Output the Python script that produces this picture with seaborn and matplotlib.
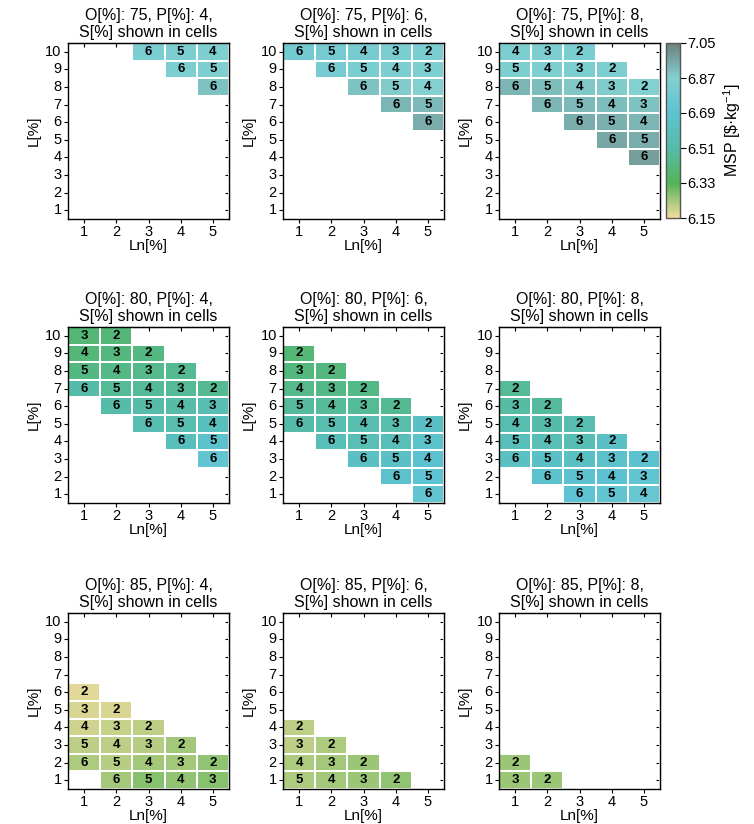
import numpy as np
import pandas as pd
import matplotlib
matplotlib.use('Agg')
import matplotlib.pyplot as plt
from matplotlib.colors import LinearSegmentedColormap, Normalize
from matplotlib.cm import ScalarMappable
import seaborn as sns

N = np.nan

# Axis categories
O_vals = [75, 80, 85]
P_vals = [4, 6, 8]
L_levels = [10, 9, 8, 7, 6, 5, 4, 3, 2, 1]
Ln_levels = [1, 2, 3, 4, 5]
cbar_ticks = [6.15, 6.33, 6.51, 6.69, 6.87, 7.05]

# MSP [$/kg] per cell, rows L=10..1, cols Ln=1..5
msp_75_4 = [
    [N, N, 6.83, 6.84, 6.85],
    [N, N, N, 6.84, 6.86],
    [N, N, N, N, 6.90],
    [N, N, N, N, N],
    [N, N, N, N, N],
    [N, N, N, N, N],
    [N, N, N, N, N],
    [N, N, N, N, N],
    [N, N, N, N, N],
    [N, N, N, N, N],
]
msp_75_6 = [
    [6.80, 6.81, 6.82, 6.83, 6.83],
    [N, 6.82, 6.83, 6.84, 6.85],
    [N, N, 6.90, 6.88, 6.87],
    [N, N, N, 6.93, 6.92],
    [N, N, N, N, 6.95],
    [N, N, N, N, N],
    [N, N, N, N, N],
    [N, N, N, N, N],
    [N, N, N, N, N],
    [N, N, N, N, N],
]
msp_75_8 = [
    [6.84, 6.84, 6.83, N, N],
    [6.85, 6.85, 6.84, 6.84, N],
    [6.93, 6.91, 6.89, 6.88, 6.87],
    [N, 6.93, 6.92, 6.91, 6.90],
    [N, N, 6.95, 6.94, 6.93],
    [N, N, N, 6.96, 6.95],
    [N, N, N, N, 6.98],
    [N, N, N, N, N],
    [N, N, N, N, N],
    [N, N, N, N, N],
]
msp_80_4 = [
    [6.40, 6.41, N, N, N],
    [6.41, 6.42, 6.43, N, N],
    [6.43, 6.44, 6.45, 6.46, N],
    [6.52, 6.47, 6.47, 6.47, 6.46],
    [N, 6.52, 6.51, 6.51, 6.56],
    [N, N, 6.56, 6.55, 6.60],
    [N, N, N, 6.60, 6.66],
    [N, N, N, N, 6.72],
    [N, N, N, N, N],
    [N, N, N, N, N],
]
msp_80_6 = [
    [N, N, N, N, N],
    [6.40, N, N, N, N],
    [6.42, 6.42, N, N, N],
    [6.45, 6.44, 6.44, N, N],
    [6.49, 6.48, 6.47, 6.46, N],
    [6.52, 6.55, 6.54, 6.53, 6.64],
    [N, 6.58, 6.57, 6.58, 6.66],
    [N, N, 6.63, 6.64, 6.68],
    [N, N, N, 6.67, 6.70],
    [N, N, N, N, 6.72],
]
msp_80_8 = [
    [N, N, N, N, N],
    [N, N, N, N, N],
    [N, N, N, N, N],
    [6.47, N, N, N, N],
    [6.50, 6.49, N, N, N],
    [6.54, 6.52, 6.55, N, N],
    [6.59, 6.57, 6.56, 6.64, N],
    [6.62, 6.64, 6.63, 6.66, 6.68],
    [N, 6.67, 6.68, 6.69, 6.71],
    [N, N, 6.70, 6.72, 6.74],
]
msp_85_4 = [
    [N, N, N, N, N],
    [N, N, N, N, N],
    [N, N, N, N, N],
    [N, N, N, N, N],
    [6.17, N, N, N, N],
    [6.18, 6.18, N, N, N],
    [6.19, 6.20, 6.21, N, N],
    [6.21, 6.21, 6.22, 6.24, N],
    [6.23, 6.22, 6.24, 6.24, 6.26],
    [N, 6.24, 6.27, 6.26, 6.27],
]
msp_85_6 = [
    [N, N, N, N, N],
    [N, N, N, N, N],
    [N, N, N, N, N],
    [N, N, N, N, N],
    [N, N, N, N, N],
    [N, N, N, N, N],
    [6.21, N, N, N, N],
    [6.21, 6.23, N, N, N],
    [6.23, 6.24, 6.25, N, N],
    [6.23, 6.24, 6.25, 6.26, N],
]
msp_85_8 = [
    [N, N, N, N, N],
    [N, N, N, N, N],
    [N, N, N, N, N],
    [N, N, N, N, N],
    [N, N, N, N, N],
    [N, N, N, N, N],
    [N, N, N, N, N],
    [N, N, N, N, N],
    [6.25, N, N, N, N],
    [6.25, 6.25, N, N, N],
]

# S[%] written in the cells (0 = empty cell)
s_75_4 = [
    [0, 0, 6, 5, 4], [0, 0, 0, 6, 5], [0, 0, 0, 0, 6], [0, 0, 0, 0, 0], [0, 0, 0, 0, 0],
    [0, 0, 0, 0, 0], [0, 0, 0, 0, 0], [0, 0, 0, 0, 0], [0, 0, 0, 0, 0], [0, 0, 0, 0, 0],
]
s_75_6 = [
    [6, 5, 4, 3, 2], [0, 6, 5, 4, 3], [0, 0, 6, 5, 4], [0, 0, 0, 6, 5], [0, 0, 0, 0, 6],
    [0, 0, 0, 0, 0], [0, 0, 0, 0, 0], [0, 0, 0, 0, 0], [0, 0, 0, 0, 0], [0, 0, 0, 0, 0],
]
s_75_8 = [
    [4, 3, 2, 0, 0], [5, 4, 3, 2, 0], [6, 5, 4, 3, 2], [0, 6, 5, 4, 3], [0, 0, 6, 5, 4],
    [0, 0, 0, 6, 5], [0, 0, 0, 0, 6], [0, 0, 0, 0, 0], [0, 0, 0, 0, 0], [0, 0, 0, 0, 0],
]
s_80_4 = [
    [3, 2, 0, 0, 0], [4, 3, 2, 0, 0], [5, 4, 3, 2, 0], [6, 5, 4, 3, 2], [0, 6, 5, 4, 3],
    [0, 0, 6, 5, 4], [0, 0, 0, 6, 5], [0, 0, 0, 0, 6], [0, 0, 0, 0, 0], [0, 0, 0, 0, 0],
]
s_80_6 = [
    [0, 0, 0, 0, 0], [2, 0, 0, 0, 0], [3, 2, 0, 0, 0], [4, 3, 2, 0, 0], [5, 4, 3, 2, 0],
    [6, 5, 4, 3, 2], [0, 6, 5, 4, 3], [0, 0, 6, 5, 4], [0, 0, 0, 6, 5], [0, 0, 0, 0, 6],
]
s_80_8 = [
    [0, 0, 0, 0, 0], [0, 0, 0, 0, 0], [0, 0, 0, 0, 0], [2, 0, 0, 0, 0], [3, 2, 0, 0, 0],
    [4, 3, 2, 0, 0], [5, 4, 3, 2, 0], [6, 5, 4, 3, 2], [0, 6, 5, 4, 3], [0, 0, 6, 5, 4],
]
s_85_4 = [
    [0, 0, 0, 0, 0], [0, 0, 0, 0, 0], [0, 0, 0, 0, 0], [0, 0, 0, 0, 0], [2, 0, 0, 0, 0],
    [3, 2, 0, 0, 0], [4, 3, 2, 0, 0], [5, 4, 3, 2, 0], [6, 5, 4, 3, 2], [0, 6, 5, 4, 3],
]
s_85_6 = [
    [0, 0, 0, 0, 0], [0, 0, 0, 0, 0], [0, 0, 0, 0, 0], [0, 0, 0, 0, 0], [0, 0, 0, 0, 0],
    [0, 0, 0, 0, 0], [2, 0, 0, 0, 0], [3, 2, 0, 0, 0], [4, 3, 2, 0, 0], [5, 4, 3, 2, 0],
]
s_85_8 = [
    [0, 0, 0, 0, 0], [0, 0, 0, 0, 0], [0, 0, 0, 0, 0], [0, 0, 0, 0, 0], [0, 0, 0, 0, 0],
    [0, 0, 0, 0, 0], [0, 0, 0, 0, 0], [0, 0, 0, 0, 0], [2, 0, 0, 0, 0], [3, 2, 0, 0, 0],
]

msp_grids = {
    (75, 4): msp_75_4, (75, 6): msp_75_6, (75, 8): msp_75_8,
    (80, 4): msp_80_4, (80, 6): msp_80_6, (80, 8): msp_80_8,
    (85, 4): msp_85_4, (85, 6): msp_85_6, (85, 8): msp_85_8,
}
s_grids = {
    (75, 4): s_75_4, (75, 6): s_75_6, (75, 8): s_75_8,
    (80, 4): s_80_4, (80, 6): s_80_6, (80, 8): s_80_8,
    (85, 4): s_85_4, (85, 6): s_85_6, (85, 8): s_85_8,
}

# Style
sns.set_style('ticks')
plt.rcParams['font.family'] = ['Liberation Sans', 'DejaVu Sans']
plt.rcParams['mathtext.default'] = 'regular'
for key in ['text.color', 'axes.labelcolor', 'xtick.color', 'ytick.color', 'axes.edgecolor']:
    plt.rcParams[key] = 'black'

msp_cmap = LinearSegmentedColormap.from_list(
    'msp', [(0.0, '#f2dc9e'), (0.2, '#52b455'), (0.4, '#56bca8'),
            (0.6, '#5cc2d2'), (0.8, '#82d0d0'), (1.0, '#6d817d')])
norm = Normalize(vmin=cbar_ticks[0], vmax=cbar_ticks[-1])

FIG_W, FIG_H = 754, 824
fig = plt.figure(figsize=(FIG_W / 100, FIG_H / 100), dpi=100)


def px_rect(left, top, w, h):
    return [left / FIG_W, 1 - (top + h) / FIG_H, w / FIG_W, h / FIG_H]


col_left = [68, 283, 499]
row_top = [43, 327, 613]
PW, PH = 161, 176


def draw_panel(ax, o, p):
    df = pd.DataFrame(msp_grids[(o, p)], index=L_levels, columns=Ln_levels)
    s = np.array(s_grids[(o, p)])
    labels = np.where(s > 0, s.astype(str), '')
    sns.heatmap(df, ax=ax, cmap=msp_cmap, vmin=norm.vmin, vmax=norm.vmax, cbar=False,
                annot=labels, fmt='',
                annot_kws={'fontsize': 9.5, 'fontweight': 'bold', 'color': 'black'},
                linewidths=1.2, linecolor='white')
    for sp in ax.spines.values():
        sp.set_visible(True)
        sp.set_color('black')
        sp.set_linewidth(1)
    ax.tick_params(direction='out', length=3, width=0.8, labelsize=10.5,
                   left=True, bottom=True, pad=1.5, colors='black')
    ax.set_yticklabels(L_levels, rotation=0)
    ax.set_xticklabels(Ln_levels, rotation=0)
    ax.set_xlabel('Ln[%]', fontsize=11, labelpad=0)
    ax.set_ylabel('L[%]', fontsize=11, labelpad=3)
    ax.set_title(f'O[%]: {o}, P[%]: {p},\nS[%] shown in cells', fontsize=11.5, pad=4)

    # mirrored inward ticks on top and right
    secx = ax.secondary_xaxis('top')
    secx.set_xticks(ax.get_xticks())
    secx.set_xticklabels([])
    secx.tick_params(direction='in', length=3, width=0.8)
    secy = ax.secondary_yaxis('right')
    secy.set_yticks(ax.get_yticks())
    secy.set_yticklabels([])
    secy.tick_params(direction='in', length=3, width=0.8)


for i, o in enumerate(O_vals):
    for j, p in enumerate(P_vals):
        ax = fig.add_axes(px_rect(col_left[j], row_top[i], PW, PH))
        draw_panel(ax, o, p)

# Colorbar next to the top-right panel
cax = fig.add_axes(px_rect(666, 43, 14, 175))
cb = fig.colorbar(ScalarMappable(norm=norm, cmap=msp_cmap), cax=cax)
cb.set_ticks(cbar_ticks)
cb.set_ticklabels([f'{t:.2f}' for t in cbar_ticks])
cb.ax.tick_params(labelsize=10.5, direction='out', length=4, width=0.8, pad=1, colors='black')
cb.outline.set_edgecolor('#555555')
cb.outline.set_linewidth(1)
cb.set_label(r'MSP [\$·kg$^{-1}$]', fontsize=11.5, labelpad=4)

fig.savefig('out.png', dpi=100)
